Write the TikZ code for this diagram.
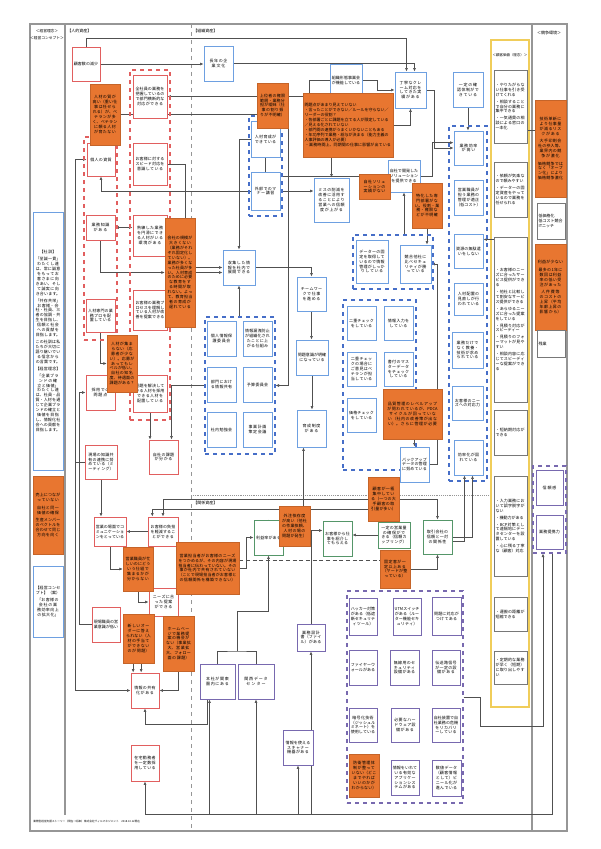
\documentclass[tikz,border=0pt]{standalone}
\usepackage{fontspec}
\setmainfont{Noto Sans CJK JP}
\usetikzlibrary{arrows.meta,backgrounds,calc}
\XeTeXlinebreaklocale "ja"
\XeTeXlinebreakskip=0pt plus 1pt

\definecolor{frameGray}{RGB}{150,150,150}
\definecolor{lineGray}{RGB}{80,80,80}
\definecolor{boxBlue}{RGB}{110,160,225}
\definecolor{grpBlue}{RGB}{70,110,200}
\definecolor{boxRed}{RGB}{225,95,95}
\definecolor{boxOrange}{RGB}{232,118,48}
\definecolor{boxPurple}{RGB}{120,105,175}
\definecolor{boxGreen}{RGB}{85,150,105}
\definecolor{listGray}{RGB}{120,120,120}
\definecolor{valYellow}{RGB}{240,205,90}

\tikzset{every picture/.style={line width=0.6pt},
  box/.style={fill=white, inner sep=1.2pt, align=center, font=\fontsize{3}{3.7}\selectfont, line width=0.7pt},
  bluebox/.style={box, draw=boxBlue},
  redbox/.style={box, draw=boxRed},
  orangebox/.style={box, fill=boxOrange, draw=boxOrange!85!black, line width=0.3pt},
  purplebox/.style={box, draw=boxPurple},
  greenbox/.style={box, draw=boxGreen},
  listbox/.style={box, draw=listGray, align=left},
  grpred/.style={draw=boxRed, dashed, line width=0.8pt, inner sep=0pt},
  grpblue/.style={draw=grpBlue, dashed, line width=0.8pt, inner sep=0pt},
  grppurple/.style={draw=boxPurple, dashed, line width=0.8pt, inner sep=0pt},
  conn/.style={draw=lineGray, line width=0.45pt},
  arr/.style={conn, -{Latex[length=2.6pt,width=2.2pt]}},
  dblarr/.style={conn, {Latex[length=2.6pt,width=2.2pt]}-{Latex[length=2.6pt,width=2.2pt]}},
  hdr/.style={font=\fontsize{3}{3.6}\selectfont, inner sep=0pt}
}

% box from corner (#3,#4) to corner (#5,#6)
\newcommand{\bx}[7]{%
  \pgfmathsetmacro{\bxw}{(#5-#3)*0.75}%
  \pgfmathsetmacro{\bxh}{(#6-#4)*0.75}%
  \pgfmathsetmacro{\bxt}{max((#5-#3)*0.75-2.4,1)}%
  \node[#2, minimum width=\bxw pt, minimum height=\bxh pt, text width=\bxt pt] (#1) at ({(#3+#5)/2},{(#4+#6)/2}) {#7};}

\begin{document}
\begin{tikzpicture}[x=0.75pt,y=0.75pt,yscale=-1,xscale=1]
\useasboundingbox (0,0) rectangle (600,849);

%Headers
\node[hdr, font=\fontsize{2.8}{3.4}\selectfont] (hdRinen) at (47,31) {＜経営理念＞};
\node[hdr, font=\fontsize{2.8}{3.4}\selectfont] (hdConcept) at (47,38) {＜経営コンセプト＞};
\node[hdr, anchor=west] (hdJinteki) at (67,31) {【人的資産】};
\node[hdr, anchor=west] (hdSoshiki) at (193,31) {【組織資産】};
\node[hdr, anchor=west] (hdKankei) at (193,503) {【関係資産】};
\node[hdr, font=\fontsize{2.6}{3.2}\selectfont] (hdKachi) at (510,55) {＜顧客価値（理念）＞};
\node[hdr] (hdKyoso) at (549,33) {＜競争環境＞};
\node[hdr, anchor=west, font=\fontsize{2}{2.5}\selectfont] (footer) at (33,821) {業際型経営支援ストーリー（現在→将来）株式会社ヴィルマネジメント　2018.10.12現在};

%Left column
\bx{kunBox}{bluebox}{33}{212}{63}{470}{【社訓】\\[1.5pt]「至誠一貫」\\わたくし達は、常に誠意をもってお客さまに向きあい、そして誠実に向き合います。\\[1.5pt]「共存共栄」\\お客様・会社・社員、三者の協調・共生を目指し、信頼と社会への貢献を目指します。\\[1.5pt]この社訓は私たちが大切に語り継いでいる信念からの言葉です。\\[1.5pt]【経営理念】\\[1.5pt]「企業ブランドの確立と価値」\\わたくし達は、社員・品質・人材を通じて企業ブランドの確立と価値を目指し、情報化社会への貢献を目指します。}
\bx{kunIssue}{orangebox}{33}{476}{63}{554}{売上につながっていない\\[2pt]自社と同一価値の確保\\[2pt]生産メンバーのベクトルを合わせて同じ方向を向く}
\bx{conBox}{bluebox}{33}{566}{63}{637}{【経営コンセプト】（案）\\[2pt]「お客様の会社の業務効率向上の拡大化」}

%Right column
\bx{ro1}{orangebox}{535}{100}{566}{197}{技術革新により仕事量が減るリスクがある\\[2pt]大手印刷会社の参入等、業界内の競争が激化\\[2pt]価格競争ではなく「オープン化」により価格競争激化}
\bx{rw1}{listbox}{537}{203}{565}{239}{低価格化\\低コスト競合\\ITニッチ}
\bx{ro2}{orangebox}{535}{244}{566}{330}{利益が少ない\\[2pt]最多の1年に数回は利益率の低い受注があった\\[2pt]人件費等のコストの上昇（平均年齢上昇の影響から）}
\bx{rw2}{listbox}{537}{330}{565}{357}{\centering 残業}
\bx{gR}{grppurple}{533}{466}{566}{553}{}
\bx{rp1}{purplebox}{536}{470}{563}{505}{信頼感}
\bx{rp2}{purplebox}{536}{515}{563}{549}{業務提携力}

%Customer value column
\bx{y1}{listbox}{494}{70}{527}{143}{・やりたがらない仕事を引き受けてくれる\\[1.5pt]・相談することで自分の業務に集中できる\\[1.5pt]・一気通貫の相談による窓口の一本化}
\bx{y2}{listbox}{494}{162}{527}{217}{・依頼が気楽なので頼みやすい\\[1.5pt]・データーの固定資産をやっているので業務を任せられる}
\bx{y3}{listbox}{494}{237}{527}{402}{・お客様のニーズに合ったサービス提供ができる\\[1.5pt]・他社と比較して割安なサービス提供ができる\\[1.5pt]・あらゆるニーズに合った提案をしている\\[1.5pt]・見積り対応がスピーディー\\[1.5pt]・見積りのフォーマットが見やすい\\[1.5pt]・相談内容に応じてスピーディーな提案ができる}
\bx{y4}{listbox}{494}{410}{527}{455}{・短納期対応ができる}
\bx{y5}{listbox}{494}{476}{527}{576}{・入力業務において誤字脱字がない\\[1.5pt]・機動力がある\\[1.5pt]・BCP対策として遠隔地にデータセンターを設置している\\[1.5pt]・心に残る丁寧な（顧客）対応}
\bx{y6}{listbox}{494}{597}{527}{631}{・運搬の距離が短縮できる}
\bx{y7}{listbox}{494}{651}{527}{684}{・定期的な業務が早く（短期）に取り出しやすい}

%Human assets
\bx{gH1}{grpred}{84}{137}{117}{340}{}
\bx{gH2}{grpred}{130}{70}{170}{420}{}
\bx{h1}{redbox}{72}{47}{100}{81}{顧客数の減少}
\bx{h3}{redbox}{87}{143}{115}{176}{個人の資質}
\bx{h4}{redbox}{86}{215}{115}{240}{業務知識がある}
\bx{h5}{redbox}{86}{299}{115}{332}{人材専門の業務プロを配置している}
\bx{h6}{redbox}{133}{75}{167}{118}{全社員の業務を把握しているので部門横断的な対応ができる}
\bx{h7}{redbox}{133}{143}{167}{185}{お客様に対するスピード対応を意識している}
\bx{h8}{redbox}{133}{215}{167}{256}{熟練した業務を円滑にできる人材がいる環境がある}
\bx{h9}{redbox}{133}{290}{167}{330}{お客様の業務プロセスを理解している人材が改善を提案できる}
\bx{h10}{redbox}{133}{375}{167}{412}{問題を解決している人材を採用できる人材を配置している}
\bx{h13}{redbox}{86}{375}{115}{410}{採用での問題点}
\bx{h14}{redbox}{85}{445}{117}{479}{現場の知識共有の連携に努めている（ミーティング）}
\bx{h15}{redbox}{149}{440}{178}{474}{自社の課題が分かる}
\bx{h2}{orangebox}{90}{84}{120}{145}{人材の質が高い（重い仕事は任せられる）が、ベテランが多く、ベテランに頼る人材が育たない}
\bx{h11}{orangebox}{165}{218}{195}{327}{会社の規模が大きくない（業務がそれぞれ固定化していない）。業務が多くなった社員が多い。人材育成のために必要な教育をする時間が取れない。よって、教育担当者の育成が遅れている}
\bx{h12}{orangebox}{107}{335}{137}{392}{人材が集まらない（応募者が少ない）。応募があってもレベルが低い。自社の知名度、待遇面の課題がある？}

%Lower left
\bx{c1}{redbox}{94}{517}{126}{546}{営業の場面でコミュニケーションをとっている}
\bx{c2}{redbox}{148}{517}{178}{546}{お客様の負担を軽減することができる}
\bx{c5}{redbox}{149}{588}{178}{616}{ニーズに合った提案ができる}
\bx{c6}{redbox}{92}{607}{120}{642}{現場職員の営業意識が低い}
\bx{c9}{redbox}{131}{673}{159}{708}{情報の共有化がある}
\bx{c10}{redbox}{131}{745}{159}{781}{在宅勤務者を一定数採用している}
\bx{c3}{orangebox}{123}{547}{153}{591}{営業職員が忙しいのにどういう仕組で集まるかが分からない}
\bx{c4}{orangebox}{176}{542}{239}{594}{営業担当者がお客様のニーズをつかめるが、その内容が現場担当者に伝わっていない。その事が社内で共有されていない（ことで現場担当者がお客様との信頼関係を構築できない）}
\bx{c7}{orangebox}{123}{614}{154}{663}{新しいオーダーに答えられない（人材の手当てができないのが問題）}
\bx{c8}{orangebox}{163}{616}{194}{671}{ホームページで業務提案の機会がない（事業拡大、営業拡大、フォロー面の課題）}

%Organisational assets
\bx{gO1}{grpblue}{249}{116}{282}{216}{}
\bx{gO2}{grpblue}{449}{126}{487}{481}{}
\bx{gO3}{grpblue}{205}{317}{275}{454}{}
\bx{gO4}{grpblue}{353}{235}{433}{289}{}
\bx{gO5}{grpblue}{343}{300}{416}{470}{}
\bx{o1}{bluebox}{204}{46}{233}{81}{長年の企業文化}
\bx{o2}{bluebox}{330}{64}{362}{97}{組織形態事業会が機能している}
\bx{o5}{bluebox}{251}{121}{280}{157}{人材育成ができている}
\bx{o6}{bluebox}{251}{172}{280}{210}{外部でのマナー講習}
\bx{o7}{bluebox}{314}{178}{349}{222}{ミスの削減を改善に活用することにより営業への信頼度が上がる}
\bx{o8}{bluebox}{395}{72}{426}{108}{丁寧なクレーム対応をしてきた実績がある}
\bx{o9}{bluebox}{453}{72}{483}{107}{一定の確認体制ができている}
\bx{o10}{bluebox}{454}{131}{483}{165}{業務効率が高い}
\bx{o11}{bluebox}{454}{180}{483}{215}{営業職員が担う業務の管理が適正（低コスト）}
\bx{o12}{bluebox}{454}{234}{483}{268}{資源の無駄遣いをしない}
\bx{o13}{bluebox}{454}{283}{483}{315}{人材配置の見直しが行われている}
\bx{o14}{bluebox}{452}{332}{483}{368}{業務だけでなく教養・技術が求められている}
\bx{o15}{bluebox}{452}{386}{483}{420}{お客様のニーズへの対応力}
\bx{o16}{bluebox}{454}{440}{483}{475}{効率化が図れている}
\bx{o17}{bluebox}{388}{160}{420}{192}{自社で開発したソリューションを提供できる}
\bx{o20}{bluebox}{223}{250}{255}{285}{収集した情報を社内で展開できる}
\bx{o21}{bluebox}{297}{277}{326}{311}{チームワークで仕事を進める}
\bx{o22}{bluebox}{207}{321}{236}{356}{個人情報保護委員会}
\bx{o23}{bluebox}{243}{321}{272}{356}{情報漏洩防止が組織化されたことに上がる仕組み}
\bx{o24}{bluebox}{207}{367}{236}{402}{部門における情報共有}
\bx{o25}{bluebox}{243}{367}{272}{402}{予算委員会}
\bx{o26}{bluebox}{207}{412}{236}{447}{社内勉強会}
\bx{o27}{bluebox}{243}{412}{272}{447}{事業計画策定会議}
\bx{o28}{bluebox}{296}{340}{328}{375}{問題意識が明確になっている}
\bx{o29}{bluebox}{297}{410}{326}{447}{育成制度がある}
\bx{o30}{bluebox}{356}{240}{388}{283}{データーの固定を取得しているので情報管理がしっかりしている}
\bx{o31}{bluebox}{400}{245}{431}{283}{競合他社に比べセキュリティが勝っている}
\bx{o32}{bluebox}{347}{306}{376}{340}{二重チェックをしている}
\bx{o33}{bluebox}{384}{306}{413}{340}{情報入力をしている}
\bx{o36}{bluebox}{347}{352}{376}{386}{二重チェックの場合にご意見はベテランが担当している}
\bx{o37}{bluebox}{384}{352}{413}{386}{書付のマスターデータをチェックしている}
\bx{o38}{bluebox}{347}{398}{376}{432}{価格チェックをしている}
\bx{o35}{bluebox}{400}{447}{429}{482}{バックアップデータの管理に努めている}
\bx{o3}{orangebox}{257}{83}{288}{128}{上位者の権限範囲・業務分担が曖昧（仕事の割り振りが不明確）}
\bx{o4}{orangebox}{303}{93}{393}{157}{\raggedright 問題点があまり見えていない\\・言ったことができない／ルールを守らない／リーダーの役割？\\・各部署ごとに課題を立てる人が限定している／見える化されていない\\・部門間の連携がうまくいかないこともある\\・年功序列で業務・給与が決まる（能力主義の人事評価の導入が必要）\\・業務時間上、同期間の仕事に影響が出ている}
\bx{o18}{orangebox}{359}{174}{390}{199}{自社ソリューションの実績がない}
\bx{o19}{orangebox}{412}{183}{442}{228}{特化した専門部署がない。役割・業務・権限などが不明確}
\bx{o34}{orangebox}{383}{389}{442}{439}{品質管理のレベルアップが問われているが、PDCAサイクルが回っていない（社内の改善策が出ない）。さらに管理が必要}

%Relational assets
\bx{gRel}{grppurple}{347}{591}{463}{803}{}
\bx{r1}{greenbox}{254}{520}{283}{555}{利益率がある}
\bx{r3}{greenbox}{323}{521}{352}{556}{お客様から仕事を紹介してもらえる}
\bx{r5}{greenbox}{378}{522}{410}{548}{一定の営業量の確保ができる（信頼カップリング）}
\bx{r7}{greenbox}{423}{520}{452}{554}{取引会社の信頼と一対の関係性}
\bx{r2}{orangebox}{279}{506}{310}{546}{外注依存度が高い（他社の作業依頼、人材の場の問題が発生）}
\bx{r4}{orangebox}{368}{477}{399}{521}{顧客が一極集中している（一つの大手顧客の取引量が多い）}
\bx{r6}{orangebox}{380}{550}{410}{588}{固定客が一定以上ある（ヤードが整っている）}
\bx{p1}{purplebox}{349}{598}{377}{635}{ハッカー対策がある（低遮断セキュリティツール）}
\bx{p2}{purplebox}{393}{598}{421}{635}{UTMスイッチがある（ルーター機能セキュリティ）}
\bx{p3}{purplebox}{432}{597}{461}{635}{問題に対応がつけてある}
\bx{p4}{purplebox}{349}{650}{377}{685}{ファイヤーウォールがある}
\bx{p5}{purplebox}{390}{650}{419}{685}{無線用のセキュリティ設備がある}
\bx{p6}{purplebox}{432}{650}{460}{685}{伝送路信号が一定の設備がある}
\bx{p7}{purplebox}{349}{708}{377}{742}{暗号化技術（ジッシュルミネート）を使用している}
\bx{p8}{purplebox}{391}{708}{419}{742}{必要なハードウェア設備がある}
\bx{p9}{purplebox}{432}{708}{460}{742}{自社装置で自社業務の危機をリカバリーしている}
\bx{p10}{orangebox}{349}{754}{379}{797}{防衛管理体制が整っていない（どこまでやればいいのかがわからない）}
\bx{p11}{purplebox}{391}{760}{419}{795}{情報をいれている有効なアプリケーションシステムがある}
\bx{p12}{purplebox}{432}{760}{461}{796}{数値データ（顧客情報として）ビニール化が進んでいる}
\bx{r8}{purplebox}{297}{624}{325}{651}{業務設計書（ファイル）がある}
\bx{r9}{purplebox}{200}{664}{235}{699}{本社が関東圏内にある}
\bx{r10}{purplebox}{238}{664}{274}{699}{関西データセンター}
\bx{r11}{purplebox}{283}{730}{313}{765}{情報を使えるスキャナー機器がある}

\begin{pgfonlayer}{background}
%Frame and columns
\draw[frameGray, line width=1pt] (30,24) rectangle (567,831);
\draw[frameGray, line width=0.8pt] (65,24) -- (65,815);
\draw[frameGray, dashed] (191,24) -- (191,831);
\draw[frameGray, line width=0.8pt] (532,24) -- (532,831);
\draw[frameGray, densely dotted] (191,495) -- (491,495);
\draw[valYellow, line width=0.9pt] (491,40) rectangle (529,707);

%Connectors: human assets
\draw[arr] (h1.north) -- ++(0,-8) -| ([xshift=-3pt]o8.north);
\draw[arr] (o1.east) -| ([xshift=3pt]o8.north);
\draw[arr] (h1.east) -- (h1.east -| o1.west);
\draw[arr] (o2.west) -- ++(-20,0) |- (h6.east);
\draw[arr] (h2.east) -| (o3.south);
\draw[arr] (h7.east) -- ++(18,0) |- (o20.west);
\draw[arr] (o6.west) -| (h3.south);
\draw[arr] (h14.west) -- ++(-9,0) |- (h3.west);
\draw[arr] (h14.west) -- ++(-9,0) |- (c9.west);
\draw[dblarr] (h4.east) -- (h4.east -| h8.west);
\draw[arr] (h4.south) |- (h11.west);
\draw[arr] (h5.south) |- (h12.west);
\draw[arr] (c6.west) -- ++(-12,0) |- (h13.west);
\draw[arr] (h10.south) -- (h10.south |- h15.north);
\draw[arr] (gO3.west) -| ([xshift=6pt]h15.north);
\draw[arr] (h14.south) -- (h14.south |- c1.north);
\draw[arr] (c1.south) |- (c3.west);
\draw[arr] (c2.west) -- (c2.west -| c1.east);
\draw[arr] (c3.south) |- (c5.west);
\draw[arr] ([xshift=-4pt]c7.south) -- ([xshift=-4pt]c7.south |- c9.north);
\draw[arr] ([xshift=2pt]c7.south) -- ([xshift=2pt]c7.south |- c9.north);
\draw[arr] (c8.south) |- (c9.east);

%Connectors: bottom buses
\coordinate (busA) at (145,814);
\draw[conn] ([xshift=2pt]gR.south) |- (busA);
\draw[arr] (busA) -- (c10.south);
\draw[arr] ([xshift=-6pt]r9.south |- busA) -- ([xshift=-6pt]r9.south);
\draw[arr] (r10.south |- busA) -- (r10.south);
\draw[arr] (r11.south |- busA) -- (r11.south);
\draw[arr] (r8.south |- busA) -- (r8.south);
\draw[arr] ([xshift=-8pt]r9.south) -- ++(0,25) -| (c9.south);
\coordinate (busB) at (543,726);
\draw[arr] (gRel.east) -- ++(17,0) |- (busB) -- (busB |- gR.south);

%Connectors: organisational assets
\draw[arr] (o5.west) -| (o20.north);
\draw[arr] (o6.east) -- (o6.east -| o7.west);
\draw[arr] (o5.south) |- (o17.west);
\draw[arr] (o4.south -| o7.north) -- (o7.north);
\draw[arr] (o8.east) -- ++(8,0) |- (o10.west);
\draw[arr] (o17.east) -- ++(12,0) |- ([yshift=-4pt]o10.west);
\draw[arr] (o9.south) -- (o9.south |- o10.north);
\draw[arr] (o2.east) -- ++(15,0) |- (o8.west);
\draw[arr] (o4.east) -| (o8.south);
\draw[arr] (o20.east) -| (o21.north);
\draw[arr] (h11.east) -- (h11.east -| o20.west);
\draw[arr] (o20.south |- gO3.north) -- (o20.south);
\draw[arr] ([xshift=12pt]o3.south) |- (gO3.east);
\draw[arr] (o28.south) -- (o28.south |- o29.north);
\draw[arr] ([xshift=-6pt]o29.south |- r2.north) -- ([xshift=-6pt]o29.south);
\draw[arr] (o21.south) -- (o21.south |- o28.north);
\draw[arr] (gO4.north -| o17.south) -- (o17.south);
\draw[arr] (o19.south) -- (o19.south |- o31.north);
\draw[arr] (o34.south -| o35.north) -- (o35.north);
\draw[arr] (o35.east) -- ++(8,0) |- (o31.east);
\draw[arr] ([yshift=-60pt]y3.west) -- ([yshift=-60pt]y3.west -| o15.east);
\draw[conn] ([yshift=18pt]y1.east) -| (ro1.north);

%Connectors: relational assets
\draw[arr] (r7.east) -| ([xshift=3pt]o16.south);
\draw[arr] ([yshift=3pt]r7.east) -| ([xshift=-3pt]o16.south);
\draw[arr] (r5.west) -- (r5.west -| r3.east);
\draw[arr] (c4.east) -- ++(7,0) |- (r1.west);
\draw[arr] ([yshift=8pt]r2.west) -| (r1.north);
\draw[arr] (r8.north) |- ([yshift=-6pt]r3.west);
\coordinate (jn) at (237,651);
\draw[conn] (r9.north) |- (jn) -| (r10.north);
\draw[arr] (jn) -- ++(0,-40) -| (r1.south);
\draw[conn, densely dashed] ([yshift=-6pt]c4.east) -- ([yshift=-6pt]c4.east -| r6.west);
\draw[arr] (r4.west) -| (c2.north);
\draw[arr] ([yshift=8pt]r4.west) -| ([xshift=-8pt]c2.north);
\draw[arr] (r6.east) -| (r7.south);
\draw[arr] (r4.east) -| (r7.north);
\end{pgfonlayer}
\end{tikzpicture}
\end{document}
